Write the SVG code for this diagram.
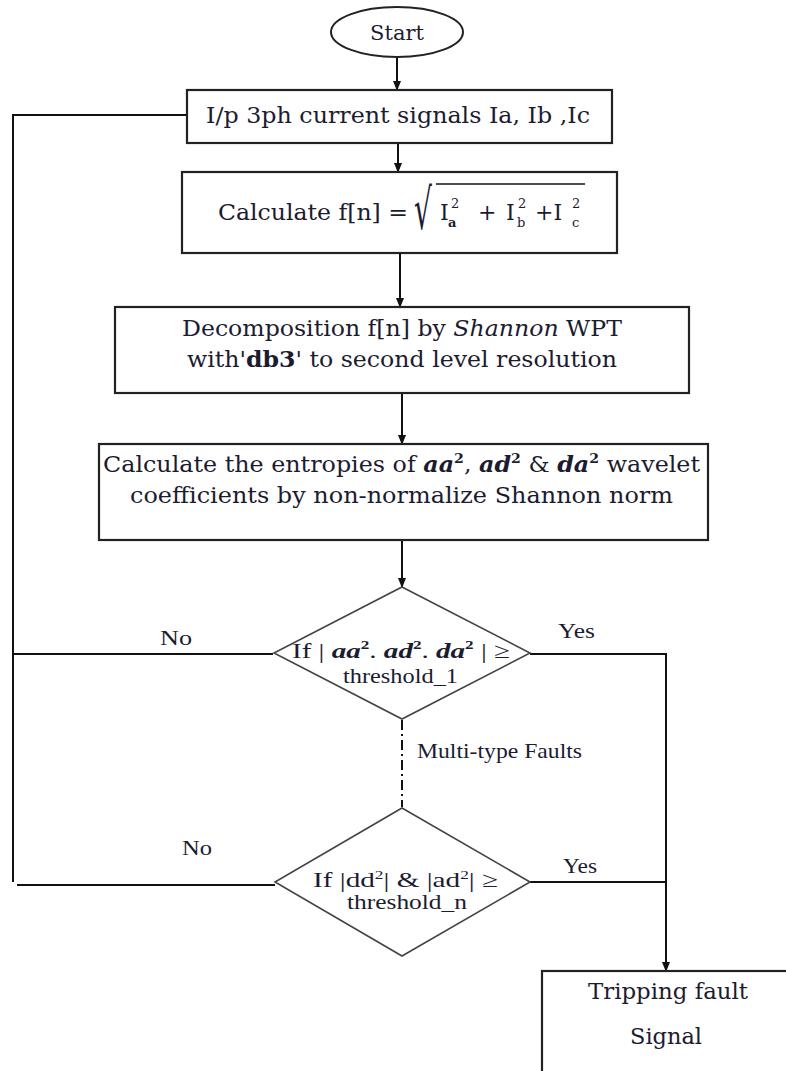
<svg xmlns="http://www.w3.org/2000/svg" width="786" height="1071" viewBox="0 0 786 1071">
<defs>
<marker id="arr" markerUnits="userSpaceOnUse" markerWidth="10" markerHeight="10" viewBox="0 0 10 10" refX="9" refY="5" orient="auto">
<path d="M0,1 L10,5 L0,9 Z" fill="#111"/>
</marker>
<style>
.box{fill:#fff;stroke:#222;stroke-width:2.2}
.dia{fill:#fff;stroke:#444;stroke-width:1.6}
.ln{fill:none;stroke:#111;stroke-width:2}
.t{font-family:"DejaVu Serif","Liberation Serif",serif;font-size:22px;fill:#1c1c30}
.r{font-family:"Liberation Serif","Times New Roman",serif;font-size:22px;fill:#1c1c30}
.bi{font-weight:bold;font-style:italic}
.b{font-weight:bold}
.it{font-style:italic}
.sm{font-size:13px}
</style>
</defs>

<g id="connectors">
<line class="ln" x1="397" y1="58" x2="397" y2="90" marker-end="url(#arr)"/>
<line class="ln" x1="398" y1="143" x2="398" y2="172" marker-end="url(#arr)"/>
<line class="ln" x1="400" y1="253" x2="400" y2="307" marker-end="url(#arr)"/>
<line class="ln" x1="402" y1="393" x2="402" y2="444" marker-end="url(#arr)"/>
<line class="ln" x1="402" y1="540" x2="402" y2="587" marker-end="url(#arr)"/>
<line class="ln" x1="402" y1="720" x2="402" y2="807" stroke-dasharray="10 4 2 4"/>
<polyline class="ln" points="187,115 13,115 13,882"/>
<line class="ln" x1="273" y1="654" x2="13" y2="654"/>
<line class="ln" x1="275" y1="885" x2="17" y2="885"/>
<polyline class="ln" points="530,654 666,654 666,971" marker-end="url(#arr)"/>
<line class="ln" x1="530" y1="882" x2="666" y2="882"/>
<text class="r" x="160" y="645" textLength="32" lengthAdjust="spacingAndGlyphs">No</text>
<text class="r" x="182" y="855" textLength="30" lengthAdjust="spacingAndGlyphs">No</text>
<text class="r" x="558" y="638" textLength="37" lengthAdjust="spacingAndGlyphs">Yes</text>
<text class="r" x="563" y="873" textLength="34" lengthAdjust="spacingAndGlyphs">Yes</text>
<text class="r" x="417" y="758" style="font-size:21px" textLength="165" lengthAdjust="spacingAndGlyphs">Multi-type Faults</text>
</g>

<g id="start">
<ellipse cx="397" cy="32" rx="66" ry="25" fill="#fff" stroke="#222" stroke-width="2"/>
<text class="t" x="397" y="40" text-anchor="middle" style="font-size:21px">Start</text>
</g>

<g id="input">
<rect class="box" x="187" y="90" width="425" height="53"/>
<text class="t" x="206" y="123" style="font-size:23px" textLength="384" lengthAdjust="spacingAndGlyphs">I/p 3ph current signals  Ia, Ib ,Ic</text>
</g>

<g id="calc-fn">
<rect class="box" x="182" y="172" width="435" height="81"/>
<text class="t" x="218" y="220" textLength="190" lengthAdjust="spacingAndGlyphs">Calculate f[n] =</text>
<text class="t" transform="translate(414,229) scale(0.5,1)" style="font-size:56px">√</text>
<line x1="436" y1="184" x2="585" y2="184" stroke="#111" stroke-width="1.6"/>
<text class="t" x="440" y="220">I</text>
<text class="t sm b" x="448" y="227">a</text>
<text class="t sm" x="451" y="208">2</text>
<text class="t" x="478" y="220">+</text>
<text class="t" x="506" y="220">I</text>
<text class="t sm" x="517" y="227">b</text>
<text class="t sm" x="518" y="208">2</text>
<text class="t" x="535" y="220">+I</text>
<text class="t sm" x="572" y="227">c</text>
<text class="t sm" x="572" y="208">2</text>
</g>

<g id="decomposition">
<rect class="box" x="115" y="307" width="574" height="86"/>
<text class="t" x="402" y="336" text-anchor="middle" textLength="440" lengthAdjust="spacingAndGlyphs">Decomposition f[n] by <tspan class="it">Shannon</tspan> WPT</text>
<text class="t" x="402" y="367" text-anchor="middle" textLength="430" lengthAdjust="spacingAndGlyphs">with'<tspan class="b">db3</tspan>' to second level resolution</text>
</g>

<g id="entropies">
<rect class="box" x="99" y="444" width="609" height="96"/>
<text class="t" x="103" y="472" textLength="597" lengthAdjust="spacingAndGlyphs">Calculate the entropies of <tspan class="bi">aa</tspan><tspan class="b sm" dy="-9">2</tspan><tspan dy="9">, </tspan><tspan class="bi">ad</tspan><tspan class="b sm" dy="-9">2</tspan><tspan dy="9"> &amp; </tspan><tspan class="bi">da</tspan><tspan class="b sm" dy="-9">2</tspan><tspan dy="9">  wavelet</tspan></text>
<text class="t" x="130" y="503" textLength="543" lengthAdjust="spacingAndGlyphs">coefficients  by non-normalize Shannon  norm</text>
</g>

<g id="decision-1">
<polygon class="dia" points="402,587 530,653 402,719 274,653"/>
<text class="r" x="292" y="658" textLength="218" lengthAdjust="spacingAndGlyphs">If | <tspan class="bi">aa</tspan><tspan class="b sm" dy="-9">2</tspan><tspan dy="9">. </tspan><tspan class="bi">ad</tspan><tspan class="b sm" dy="-9">2</tspan><tspan dy="9">. </tspan><tspan class="bi">da</tspan><tspan class="b sm" dy="-9">2</tspan><tspan dy="9"> | ≥</tspan></text>
<text class="r" x="343" y="683" textLength="115" lengthAdjust="spacingAndGlyphs">threshold_1</text>
</g>

<g id="decision-n">
<polygon class="dia" points="402,808 530,882 402,956 275,882"/>
<text class="r" x="313" y="887" textLength="185" lengthAdjust="spacingAndGlyphs">If |dd<tspan class="sm" dy="-8">2</tspan><tspan dy="8">| &amp; |ad</tspan><tspan class="sm" dy="-8">2</tspan><tspan dy="8">| ≥</tspan></text>
<text class="r" x="347" y="909" textLength="120" lengthAdjust="spacingAndGlyphs">threshold_n</text>
</g>

<g id="trip">
<rect class="box" x="542" y="971" width="260" height="120"/>
<text class="t" x="588" y="999" textLength="160" lengthAdjust="spacingAndGlyphs">Tripping fault</text>
<text class="t" x="630" y="1044" textLength="72" lengthAdjust="spacingAndGlyphs">Signal</text>
</g>
</svg>
